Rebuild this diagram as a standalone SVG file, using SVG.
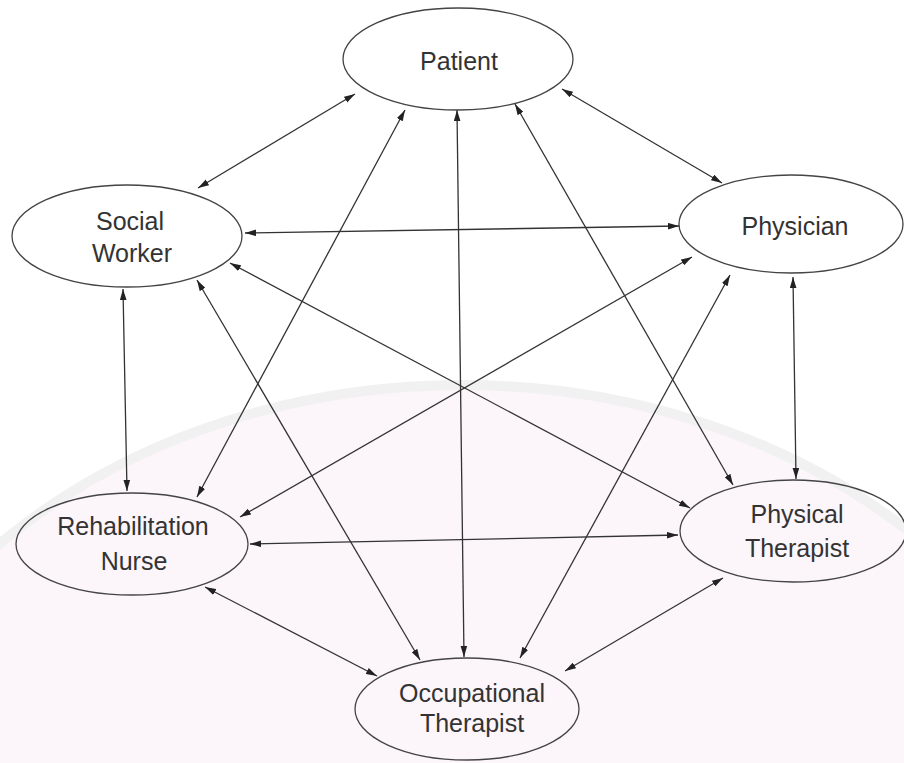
<svg xmlns="http://www.w3.org/2000/svg" width="904" height="763" viewBox="0 0 904 763">
  <defs>
    <marker id="head" viewBox="0 0 10 6" refX="10" refY="3" markerWidth="11" markerHeight="7" markerUnits="userSpaceOnUse" orient="auto-start-reverse">
      <path d="M0,0 L10,3 L0,6 Z" fill="#222"/>
    </marker>
  </defs>
  <style>
    .bg { fill: #ffffff; }
    .tint { fill: #fcf5fa; stroke: #f1f1f1; stroke-width: 10; }
    .node ellipse { fill: none; stroke: #444; stroke-width: 1.3; }
    .node text { font-family: "Liberation Sans", Arial, sans-serif; font-size: 25px; fill: #333; text-anchor: middle; }
    #connectors line { stroke: #333; stroke-width: 1.3; marker-start: url(#head); marker-end: url(#head); }
  </style>

  <rect class="bg" x="0" y="0" width="904" height="763"/>
  <!-- faint background tint -->
  <ellipse class="tint" cx="462" cy="900" rx="640" ry="515"/>

  <g id="connectors">
    <line x1="355" y1="94" x2="198" y2="188"/>
    <line x1="562" y1="89" x2="722" y2="183"/>
    <line x1="405" y1="110" x2="197" y2="497"/>
    <line x1="515" y1="104" x2="733" y2="485"/>
    <line x1="457" y1="110" x2="464" y2="657"/>
    <line x1="245" y1="233" x2="679" y2="226"/>
    <line x1="123" y1="289" x2="127" y2="491"/>
    <line x1="197" y1="280" x2="420" y2="660"/>
    <line x1="230" y1="263" x2="690" y2="508"/>
    <line x1="692" y1="257" x2="240" y2="517"/>
    <line x1="730" y1="275" x2="520" y2="658"/>
    <line x1="793" y1="277" x2="796" y2="479"/>
    <line x1="250" y1="544" x2="678" y2="535"/>
    <line x1="205" y1="587" x2="377" y2="676"/>
    <line x1="723" y1="578" x2="565" y2="671"/>
  </g>

  <g id="patient" class="node">
    <ellipse cx="458" cy="59" rx="115" ry="51"/>
    <text x="459" y="70">Patient</text>
  </g>
  <g id="social-worker" class="node">
    <ellipse cx="127" cy="236" rx="115" ry="51"/>
    <text x="130" y="230">Social</text>
    <text x="132" y="262">Worker</text>
  </g>
  <g id="physician" class="node">
    <ellipse cx="791" cy="224" rx="112" ry="49"/>
    <text x="795" y="235">Physician</text>
  </g>
  <g id="rehabilitation-nurse" class="node">
    <ellipse cx="132" cy="544" rx="116" ry="51"/>
    <text x="133" y="535">Rehabilitation</text>
    <text x="134" y="570">Nurse</text>
  </g>
  <g id="physical-therapist" class="node">
    <ellipse cx="793" cy="531" rx="113" ry="51"/>
    <text x="797" y="523">Physical</text>
    <text x="797" y="557">Therapist</text>
  </g>
  <g id="occupational-therapist" class="node">
    <ellipse cx="467" cy="709" rx="112" ry="51"/>
    <text x="472" y="702">Occupational</text>
    <text x="472" y="732">Therapist</text>
  </g>
</svg>
